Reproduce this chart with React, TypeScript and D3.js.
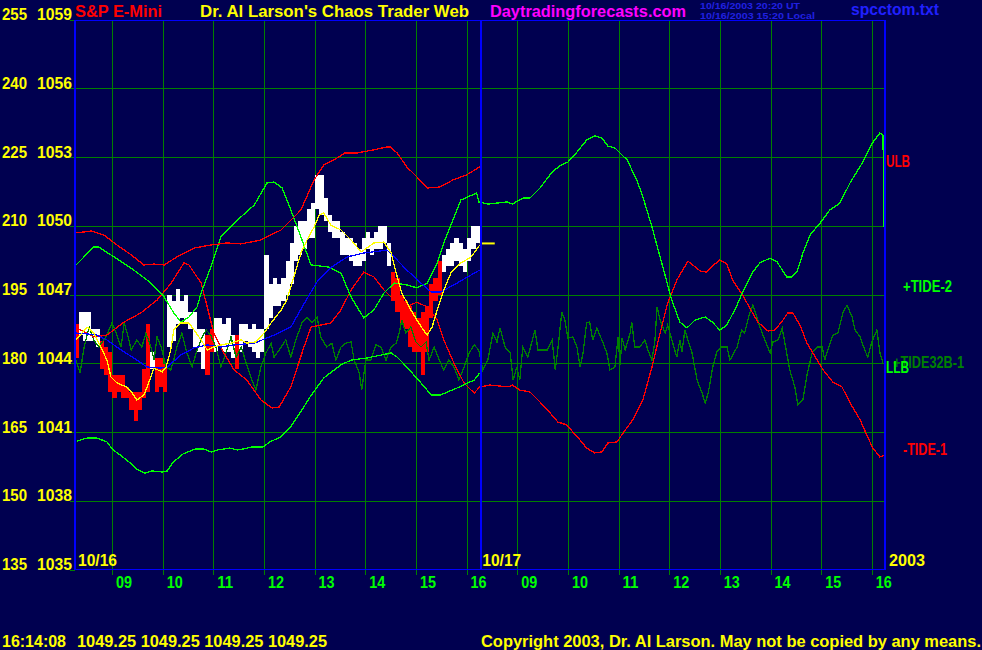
import React from 'react';
import * as d3 from 'd3';

// ---------- axis labels ----------
const tideTicks = ['255', '240', '225', '210', '195', '180', '165', '150', '135'];
const priceTicks = [1059, 1056, 1053, 1050, 1047, 1044, 1041, 1038, 1035];
const hourLabels = ['09', '10', '11', '12', '13', '14', '15', '16'];
const hourValues = [9, 10, 11, 12, 13, 14, 15, 16];
const dayLabels = ['10/16', '10/17'];
const yearLabel = '2003';
const lastTime = '16:14:08';
const lastQuote = [1049.25, 1049.25, 1049.25, 1049.25];
const lastPrice = 1049.25;

// ---------- 5-minute price bars from 08:15 on 10/16 ----------
const barHigh = [
  1045.75, 1046.25, 1046.25, 1046.25, 1045.5, 1045.5, 1045.0, 1044.75, 1044.5, 1043.5,
  1043.5, 1043.5, 1043.0, 1042.75, 1042.75, 1042.75, 1043.75, 1045.75, 1044.5, 1044.25,
  1044.25, 1044.0, 1047.0, 1046.75, 1047.25, 1046.75, 1047.0, 1046.25, 1046.25, 1045.5,
  1045.5, 1045.25, 1045.5, 1046.0, 1046.0, 1045.75, 1046.0, 1045.25, 1045.25, 1045.75,
  1045.75, 1045.5, 1045.75, 1045.5, 1045.5, 1048.75, 1047.5, 1047.75, 1047.5, 1047.75,
  1048.5, 1049.25, 1050.0, 1050.25, 1050.25, 1050.75, 1051.0, 1052.25, 1052.25, 1051.25,
  1050.5, 1050.25, 1050.25, 1049.75, 1049.5, 1049.5, 1049.25, 1049.0, 1049.5, 1049.75,
  1049.5, 1049.75, 1050.0, 1050.0, 1049.25, 1048.0, 1047.75, 1047.0, 1046.75, 1046.5,
  1046.25, 1046.0, 1046.25, 1046.5, 1047.5, 1047.75, 1048.5, 1048.75, 1049.0, 1049.25,
  1049.5, 1049.25, 1049.0, 1049.5, 1050.0, 1050.0,
];
const barLow = [
  1044.25, 1045.25, 1045.0, 1045.0, 1045.0, 1044.75, 1043.75, 1043.5, 1042.75, 1042.5,
  1042.75, 1042.5, 1042.5, 1042.0, 1041.5, 1042.0, 1042.5, 1042.75, 1043.75, 1042.75,
  1043.0, 1042.75, 1044.75, 1045.0, 1045.75, 1046.0, 1045.75, 1045.5, 1044.75, 1044.5,
  1043.75, 1043.5, 1044.5, 1044.5, 1044.75, 1044.5, 1044.5, 1044.25, 1043.75, 1044.5,
  1045.0, 1044.75, 1044.5, 1044.25, 1044.5, 1045.5, 1046.0, 1046.5, 1046.5, 1046.75,
  1047.0, 1047.5, 1048.5, 1048.75, 1049.0, 1049.5, 1049.5, 1050.75, 1050.5, 1050.25,
  1049.75, 1049.5, 1049.5, 1048.75, 1048.75, 1048.5, 1048.25, 1048.25, 1048.5, 1049.0,
  1048.75, 1049.0, 1049.0, 1049.25, 1048.25, 1046.75, 1046.25, 1045.75, 1045.5, 1044.75,
  1044.5, 1044.5, 1043.5, 1044.5, 1046.0, 1046.75, 1047.0, 1048.0, 1048.25, 1048.25,
  1048.5, 1048.25, 1048.0, 1048.5, 1049.0, 1049.25,
];
const barColor = (
  'r wwwww rrrrrrrrrrrr w rrr wwwwwwwww rr wwwww r ' +
  'wwwwww wwwwww wwwwww wwwwww wwwwww wwwwww rrrrrrrrrrrr wwwwwwwww'
).replace(/ /g, '').split('');

// ---------- lines: [session hour (0 = 10/16 08:15), price] ----------
const fastAvg = [
  [0.03, 1045.04], [0.25, 1045.6], [0.38, 1045.34], [0.52, 1044.73], [0.64, 1044.16], [0.72, 1043.42],
  [0.84, 1043.16], [1.02, 1042.99], [1.14, 1042.72], [1.23, 1042.42], [1.37, 1042.64], [1.47, 1043.2],
  [1.57, 1043.81], [1.73, 1043.64], [1.81, 1043.86], [1.9, 1044.6], [1.96, 1045.47], [2.1, 1045.78],
  [2.26, 1045.78], [2.36, 1045.47], [2.5, 1045.04], [2.62, 1044.6], [2.75, 1044.73], [2.89, 1044.82],
  [3.09, 1044.9], [3.29, 1045.04], [3.4, 1044.9], [3.58, 1044.95], [3.74, 1045.34], [3.88, 1045.78],
  [4.08, 1046.35], [4.19, 1046.78], [4.33, 1047.79], [4.47, 1048.83], [4.59, 1049.4], [4.73, 1049.97],
  [4.83, 1050.49], [4.92, 1050.58], [5.06, 1050.05], [5.26, 1049.84], [5.46, 1049.4], [5.66, 1048.88],
  [5.77, 1049.05], [5.91, 1049.27], [6.11, 1049.31], [6.25, 1048.83], [6.35, 1047.96], [6.46, 1047.09],
  [6.64, 1046.35], [6.76, 1045.91], [6.86, 1045.56], [6.96, 1045.25], [7.06, 1045.6], [7.16, 1046.35],
  [7.29, 1047.22], [7.43, 1047.96], [7.63, 1048.4], [7.83, 1048.66], [8.0, 1049.18],
];
const slowAvg = [
  [0.01, 1045.34], [0.25, 1045.3], [0.44, 1045.25], [0.64, 1045.04], [0.92, 1044.6], [1.17, 1044.25],
  [1.43, 1043.86], [1.71, 1043.81], [1.83, 1043.86], [2.1, 1044.38], [2.36, 1044.69], [2.62, 1044.82],
  [2.89, 1044.73], [3.15, 1044.82], [3.55, 1044.9], [3.94, 1045.25], [4.27, 1045.6], [4.55, 1046.69],
  [4.81, 1047.65], [5.08, 1048.22], [5.38, 1048.66], [5.71, 1048.83], [6.17, 1048.96], [6.31, 1048.66],
  [6.56, 1048.09], [6.84, 1047.52], [7.04, 1047.13], [7.23, 1047.13], [7.55, 1047.52], [8.0, 1048.09],
];
const ulb = [
  [0.03, 1049.71], [0.33, 1049.79], [0.58, 1049.62], [0.84, 1049.18], [1.12, 1048.75], [1.37, 1048.31],
  [1.57, 1048.35], [1.77, 1048.31], [2.02, 1048.66], [2.36, 1049.05], [2.69, 1049.18], [3.01, 1049.27],
  [3.29, 1049.23], [3.68, 1049.4], [4.08, 1049.84], [4.47, 1050.71], [4.73, 1052.02], [4.92, 1052.67],
  [5.12, 1052.89], [5.34, 1053.2], [5.58, 1053.2], [5.9, 1053.33], [6.17, 1053.46], [6.23, 1053.46],
  [6.37, 1053.2], [6.56, 1052.59], [6.76, 1052.15], [6.96, 1051.67], [7.21, 1051.71], [7.47, 1052.02],
  [7.74, 1052.24], [8.0, 1052.59],
];
const llb = [
  [0.05, 1040.63], [0.25, 1040.76], [0.44, 1040.76], [0.64, 1040.59], [0.76, 1040.24], [0.9, 1040.02],
  [1.1, 1039.67], [1.23, 1039.41], [1.39, 1039.23], [1.53, 1039.32], [1.73, 1039.28], [1.83, 1039.32],
  [1.95, 1039.71], [2.14, 1040.06], [2.38, 1040.28], [2.54, 1040.28], [2.71, 1040.15], [2.83, 1040.24],
  [3.07, 1040.32], [3.21, 1040.24], [3.33, 1040.28], [3.5, 1040.37], [3.72, 1040.37], [3.86, 1040.59],
  [4.06, 1040.8], [4.25, 1041.2], [4.45, 1041.85], [4.65, 1042.55], [4.92, 1043.38], [5.26, 1043.95],
  [5.46, 1044.16], [5.77, 1044.25], [6.25, 1044.47], [6.37, 1044.29], [6.56, 1043.86], [6.84, 1043.16],
  [7.04, 1042.64], [7.23, 1042.64], [7.55, 1042.94], [7.89, 1043.29], [8.0, 1043.6],
];
const tidePlus2 = [
  [0.03, 1048.31], [0.38, 1049.09], [0.48, 1049.09], [0.78, 1048.66], [1.17, 1048.09], [1.51, 1047.52],
  [1.77, 1046.91], [1.96, 1046.22], [2.1, 1045.82], [2.26, 1046.04], [2.42, 1046.48], [2.5, 1047.09],
  [2.69, 1048.22], [2.89, 1049.53], [3.15, 1050.14], [3.55, 1050.93], [3.8, 1051.89], [3.94, 1051.93],
  [4.1, 1051.67], [4.27, 1050.71], [4.47, 1049.53], [4.67, 1048.31], [5.02, 1048.22], [5.26, 1047.96],
  [5.46, 1046.91], [5.71, 1046.0], [5.91, 1046.35], [6.11, 1047.09], [6.31, 1047.52], [6.56, 1047.44],
  [6.76, 1047.31], [6.96, 1047.52], [7.16, 1048.4], [7.29, 1049.27], [7.63, 1051.15], [7.94, 1051.45],
  [7.98, 1051.06], [8.16, 1050.97], [8.34, 1051.01], [8.54, 1051.06], [8.64, 1050.97], [8.86, 1051.23],
  [8.99, 1051.23], [9.19, 1051.67], [9.43, 1052.37], [9.58, 1052.63], [9.74, 1052.8], [9.92, 1053.24],
  [10.11, 1053.76], [10.27, 1053.94], [10.41, 1053.85], [10.53, 1053.5], [10.67, 1053.41], [10.91, 1052.89],
  [11.1, 1052.02], [11.22, 1051.28], [11.4, 1049.97], [11.56, 1048.66], [11.7, 1047.52], [11.79, 1046.78],
  [11.95, 1045.82], [12.09, 1045.56], [12.25, 1045.91], [12.45, 1046.04], [12.59, 1045.82], [12.74, 1045.47],
  [12.88, 1045.69], [13.08, 1046.56], [13.19, 1047.13], [13.39, 1048.0], [13.53, 1048.4], [13.73, 1048.61],
  [13.87, 1048.44], [14.06, 1047.79], [14.16, 1047.79], [14.26, 1048.0], [14.38, 1048.83], [14.52, 1049.62],
  [14.72, 1050.14], [14.91, 1050.71], [15.11, 1051.01], [15.31, 1051.89], [15.55, 1052.76], [15.75, 1053.63],
  [15.9, 1054.07], [15.96, 1053.98], [15.98, 1050.58], [16.0, 1047.09],
];
const tideMinus1 = [
  [0.01, 1045.6], [0.38, 1045.17], [0.64, 1045.25], [0.98, 1045.82], [1.31, 1046.22], [1.63, 1046.78],
  [1.91, 1047.52], [2.16, 1048.4], [2.26, 1048.31], [2.5, 1047.52], [2.62, 1046.48], [2.75, 1045.34],
  [2.95, 1044.47], [3.15, 1043.73], [3.4, 1043.29], [3.68, 1042.42], [3.9, 1042.07], [4.04, 1042.11],
  [4.27, 1042.99], [4.53, 1044.73], [4.67, 1045.6], [5.06, 1045.78], [5.26, 1046.35], [5.46, 1047.22],
  [5.71, 1048.0], [5.91, 1047.79], [6.11, 1047.22], [6.31, 1046.78], [6.56, 1046.48], [6.76, 1046.69],
  [6.96, 1046.48], [7.16, 1045.91], [7.29, 1045.04], [7.49, 1044.03], [7.69, 1043.16], [7.89, 1042.72],
  [8.0, 1042.99], [8.2, 1043.07], [8.56, 1042.99], [8.64, 1043.07], [8.79, 1042.85], [8.99, 1042.77],
  [9.19, 1042.33], [9.39, 1041.85], [9.54, 1041.46], [9.72, 1041.33], [9.84, 1041.02], [9.98, 1040.67],
  [10.11, 1040.32], [10.27, 1040.11], [10.41, 1040.15], [10.53, 1040.54], [10.71, 1040.59], [10.83, 1040.98],
  [11.02, 1041.55], [11.22, 1042.42], [11.4, 1043.86], [11.56, 1045.34], [11.71, 1046.65], [11.89, 1047.65],
  [12.11, 1048.48], [12.35, 1048.05], [12.48, 1048.0], [12.64, 1048.35], [12.74, 1048.53], [12.88, 1048.35],
  [12.99, 1047.65], [13.19, 1047.0], [13.33, 1046.43], [13.49, 1045.82], [13.69, 1045.43], [13.82, 1045.47],
  [13.96, 1045.82], [14.08, 1046.22], [14.18, 1046.22], [14.32, 1045.69], [14.46, 1044.9], [14.66, 1044.16],
  [14.78, 1043.73], [14.97, 1043.2], [15.15, 1042.99], [15.31, 1042.29], [15.51, 1041.55], [15.64, 1040.89],
  [15.76, 1040.32], [15.9, 1039.93], [16.0, 1040.02],
];
const tide32b = [
  [0.03, 1044.16], [0.11, 1043.6], [0.19, 1044.73], [0.29, 1045.6], [0.38, 1045.04], [0.48, 1044.73],
  [0.62, 1045.17], [0.74, 1045.78], [0.82, 1045.34], [0.92, 1044.73], [0.98, 1045.78], [1.04, 1045.34],
  [1.12, 1044.6], [1.23, 1045.04], [1.33, 1044.73], [1.41, 1045.34], [1.51, 1044.73], [1.57, 1044.16],
  [1.63, 1045.17], [1.71, 1044.73], [1.81, 1043.86], [1.9, 1043.73], [1.96, 1044.16], [2.02, 1044.73],
  [2.12, 1045.34], [2.22, 1044.47], [2.32, 1043.86], [2.42, 1044.6], [2.52, 1045.17], [2.6, 1045.47],
  [2.69, 1045.25], [2.79, 1044.73], [2.89, 1043.86], [2.99, 1044.47], [3.09, 1045.17], [3.19, 1044.29],
  [3.29, 1044.73], [3.39, 1044.03], [3.48, 1043.42], [3.58, 1042.85], [3.68, 1043.86], [3.78, 1044.47],
  [3.88, 1044.9], [3.94, 1044.29], [4.08, 1044.73], [4.17, 1045.04], [4.27, 1044.29], [4.37, 1045.04],
  [4.49, 1045.78], [4.59, 1046.04], [4.69, 1045.78], [4.79, 1046.04], [4.86, 1045.17], [4.98, 1044.73],
  [5.08, 1044.9], [5.16, 1044.16], [5.26, 1044.73], [5.36, 1044.9], [5.46, 1044.95], [5.52, 1044.16],
  [5.62, 1043.6], [5.67, 1042.85], [5.75, 1044.16], [5.85, 1044.16], [5.95, 1044.82], [6.05, 1044.73],
  [6.15, 1044.16], [6.25, 1044.73], [6.35, 1044.9], [6.41, 1045.34], [6.46, 1045.91], [6.54, 1045.34],
  [6.64, 1045.6], [6.74, 1044.95], [6.84, 1044.73], [6.94, 1044.95], [7.0, 1044.16], [7.1, 1044.73],
  [7.2, 1044.16], [7.29, 1043.73], [7.39, 1044.16], [7.49, 1043.86], [7.59, 1043.29], [7.69, 1043.86],
  [7.79, 1044.47], [7.89, 1044.82], [7.98, 1044.6],
  [8.06, 1043.73], [8.16, 1044.16], [8.26, 1045.34], [8.34, 1044.95], [8.4, 1045.56], [8.5, 1044.73],
  [8.6, 1044.47], [8.66, 1043.29], [8.73, 1043.86], [8.79, 1043.29], [8.85, 1044.73], [8.95, 1044.29],
  [9.09, 1045.47], [9.15, 1044.6], [9.33, 1044.6], [9.43, 1045.04], [9.49, 1043.73], [9.54, 1044.6],
  [9.62, 1046.26], [9.68, 1045.91], [9.74, 1045.12], [9.84, 1045.17], [9.92, 1044.73], [9.98, 1043.86],
  [10.04, 1044.47], [10.11, 1045.78], [10.17, 1045.82], [10.23, 1045.04], [10.31, 1045.56], [10.41, 1045.04],
  [10.51, 1044.47], [10.57, 1043.73], [10.67, 1043.86], [10.73, 1045.17], [10.77, 1043.95], [10.81, 1045.12],
  [10.87, 1044.6], [10.97, 1045.34], [11.0, 1045.82], [11.06, 1044.73], [11.16, 1044.73], [11.26, 1045.04],
  [11.32, 1044.6], [11.4, 1044.16], [11.46, 1045.04], [11.5, 1046.48], [11.56, 1045.91], [11.66, 1045.34],
  [11.71, 1045.69], [11.81, 1044.9], [11.89, 1044.29], [11.95, 1045.04], [11.99, 1044.51], [12.05, 1045.47],
  [12.11, 1045.04], [12.19, 1044.47], [12.29, 1043.29], [12.39, 1042.72], [12.45, 1042.29], [12.51, 1042.72],
  [12.6, 1043.86], [12.68, 1044.51], [12.78, 1044.73], [12.88, 1044.73], [12.94, 1044.16], [13.08, 1044.73],
  [13.17, 1045.47], [13.23, 1045.34], [13.33, 1046.22], [13.39, 1046.56], [13.47, 1046.04], [13.53, 1045.6],
  [13.63, 1045.04], [13.73, 1044.47], [13.79, 1044.95], [13.89, 1045.04], [13.97, 1045.56], [14.06, 1044.47],
  [14.12, 1043.73], [14.22, 1042.99], [14.28, 1042.2], [14.38, 1042.42], [14.46, 1043.51], [14.56, 1044.47],
  [14.66, 1044.73], [14.76, 1044.73], [14.81, 1044.16], [14.87, 1044.6], [14.97, 1045.25], [15.07, 1045.34],
  [15.17, 1046.22], [15.25, 1046.56], [15.35, 1046.04], [15.41, 1045.47], [15.51, 1045.17], [15.6, 1044.6],
  [15.66, 1044.29], [15.74, 1044.95], [15.84, 1045.47], [15.9, 1044.47], [15.96, 1044.03],
];

// ---------- colours ----------
const BG = '#000050';
const BORDER = '#0000ff';
const GRID = '#008000';
const BRIGHT_GREEN = '#00ff00';
const DARK_GREEN = '#008000';
const RED = '#ff0000';
const YELLOW = '#ffff00';
const WHITE = '#ffffff';
const FONT = "'Liberation Sans', Arial, Helvetica, sans-serif";

export default function App() {
  const x = d3.scaleLinear().domain([0, 16]).range([74.5, 885]);
  const y = d3.scaleLinear().domain([1035, 1059]).range([570, 20]);
  const line = d3
    .line<number[]>()
    .x((d) => x(d[0]))
    .y((d) => y(d[1]));

  const hourT: number[] = [];
  [0, 1].forEach((day) => hourValues.forEach((h) => hourT.push(day * 8 + (h - 8.25))));

  const crisp = (v: number) => Math.floor(v) + 0.5;

  const txt = (
    s: string,
    tx: number,
    ty: number,
    fill: string,
    size: number,
    len?: number,
    key?: string
  ) => (
    <text
      key={key}
      x={tx}
      y={ty}
      fill={fill}
      fontSize={size}
      fontFamily={FONT}
      fontWeight="bold"
      textLength={len}
      lengthAdjust={len ? 'spacingAndGlyphs' : undefined}
    >
      {s}
    </text>
  );

  const series: { data: number[][]; color: string }[] = [
    { data: tide32b, color: DARK_GREEN },
    { data: tideMinus1, color: RED },
    { data: tidePlus2, color: BRIGHT_GREEN },
    { data: ulb, color: RED },
    { data: llb, color: BRIGHT_GREEN },
    { data: slowAvg, color: BORDER },
    { data: fastAvg, color: YELLOW },
  ];

  const divX = Math.round(x(8)) + 0.5;

  return (
    <svg
      width={982}
      height={650}
      style={{ position: 'absolute', left: 0, top: 0, display: 'block' }}
    >
      <rect x={0} y={0} width={982} height={650} fill={BG} />

      {/* horizontal grid */}
      <g shapeRendering="crispEdges">
        {priceTicks.map((p, i) =>
          i > 0 && i < priceTicks.length - 1 ? (
            <line
              key={'hg' + p}
              x1={75}
              x2={885}
              y1={crisp(y(p))}
              y2={crisp(y(p))}
              stroke={GRID}
              strokeWidth={1}
            />
          ) : null
        )}
        {priceTicks.map((p) => (
          <line key={'lt' + p} x1={70} x2={75} y1={crisp(y(p))} y2={crisp(y(p))} stroke={GRID} strokeWidth={1} />
        ))}

        {/* vertical hour grid */}
        {hourT.map((t, i) => (
          <line
            key={'vg' + i}
            x1={crisp(x(t))}
            x2={crisp(x(t))}
            y1={21}
            y2={575}
            stroke={GRID}
            strokeWidth={1}
          />
        ))}
      </g>

      {/* price bars */}
      <g shapeRendering="crispEdges">
        {barHigh.map((hi, i) => {
          const x0 = x(i / 12);
          const x1 = x((i + 1) / 12);
          return (
            <rect
              key={'b' + i}
              x={x0}
              y={y(hi)}
              width={x1 - x0}
              height={Math.max(1, y(barLow[i]) - y(hi))}
              fill={barColor[i] === 'r' ? RED : WHITE}
            />
          );
        })}
      </g>

      {/* lines */}
      <g shapeRendering="crispEdges">
        {series.map((s, i) => (
          <path key={'s' + i} d={line(s.data) || ''} fill="none" stroke={s.color} strokeWidth={1.3} />
        ))}
      </g>

      {/* current price marker */}
      <line x1={x(8)} x2={x(8) + 15} y1={y(lastPrice)} y2={y(lastPrice)} stroke={YELLOW} strokeWidth={2} />

      {/* plot frame */}
      <g shapeRendering="crispEdges">
        <line x1={74} x2={886} y1={20.5} y2={20.5} stroke={BORDER} strokeWidth={1} />
        <line x1={74} x2={886} y1={569.5} y2={569.5} stroke={BORDER} strokeWidth={1.5} />
        <line x1={75} x2={75} y1={20} y2={570} stroke={BORDER} strokeWidth={2} />
        <line x1={divX} x2={divX} y1={20} y2={570} stroke={BORDER} strokeWidth={2} />
        <line x1={885} x2={885} y1={20} y2={570} stroke={BORDER} strokeWidth={2} />
      </g>

      {/* left axis labels */}
      {priceTicks.map((p, i) => (
        <g key={'la' + p}>
          {txt(tideTicks[i], 2, y(p), YELLOW, 17, 25)}
          {txt(String(p), 37, y(p), YELLOW, 17, 35)}
        </g>
      ))}

      {/* hour labels */}
      {hourT.map((t, i) => txt(hourLabels[i % 8], x(t) + 3.5, 588, BRIGHT_GREEN, 17, 16, 'hl' + i))}

      {/* day labels */}
      {txt(dayLabels[0], 78, 566, YELLOW, 17, 39)}
      {txt(dayLabels[1], x(8) + 2.5, 566, YELLOW, 17, 39)}
      {txt(yearLabel, 889, 566, YELLOW, 17, 36)}

      {/* header */}
      {txt('S&P E-Mini', 75, 17, RED, 16, 87)}
      {txt("Dr. Al Larson's Chaos Trader Web", 200, 17, YELLOW, 16, 269)}
      {txt('Daytradingforecasts.com', 490, 17, '#ff00ff', 16, 196)}
      {txt('10/16/2003 20:20 UT', 700, 9, '#2020e0', 9, 100)}
      {txt('10/16/2003 15:20 Local', 700, 18.5, '#2020e0', 9, 115)}
      {txt('spcctom.txt', 851, 15, '#2020ff', 16, 88)}

      {/* right labels */}
      {txt('ULB', 886, 167, RED, 16, 24)}
      {txt('+TIDE-2', 903, 292, BRIGHT_GREEN, 16, 49)}
      {txt('+TIDE32B-1', 893, 368, DARK_GREEN, 16, 71)}
      {txt('LLB', 886, 373, BRIGHT_GREEN, 16, 23)}
      {txt('-TIDE-1', 903, 455, RED, 16, 44)}

      {/* footer */}
      {txt(lastTime, 2, 647, YELLOW, 16, 64)}
      {txt(lastQuote.map((q) => q.toFixed(2)).join(' '), 77, 647, YELLOW, 16, 250)}
      {txt('Copyright 2003, Dr. Al Larson. May not be copied by any means.', 481, 647, YELLOW, 16, 500)}
    </svg>
  );
}
